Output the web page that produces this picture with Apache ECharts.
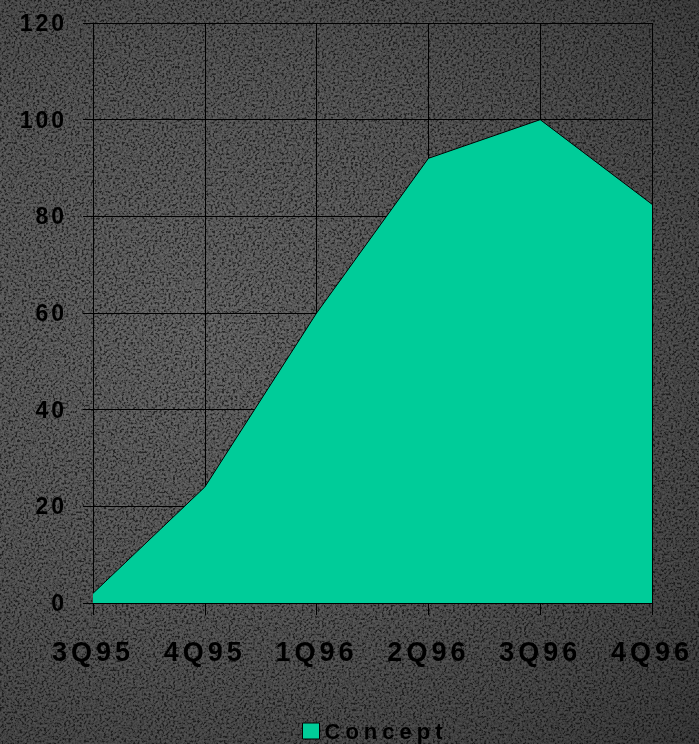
<!DOCTYPE html>
<html>
<head>
<meta charset="utf-8">
<script src="https://cdn.jsdelivr.net/npm/echarts@6/dist/echarts.min.js"></script>
<style>
html,body{margin:0;padding:0;}
#wrap{position:relative;width:699px;height:744px;overflow:hidden;
 background:radial-gradient(ellipse at 30% 45%, #4a4a4a 0%, #404040 45%, #333 80%, #2a2a2a 100%);}
#noise{position:absolute;left:0;top:0;width:699px;height:744px;opacity:0.45;
 background-image:url("data:image/svg+xml;utf8,<svg xmlns='http://www.w3.org/2000/svg' width='699' height='744'><filter id='n'><feTurbulence type='fractalNoise' baseFrequency='0.45' numOctaves='2' stitchTiles='stitch'/><feColorMatrix type='matrix' values='3 0 0 0 -1  3 0 0 0 -1  3 0 0 0 -1  0 0 0 0 1'/></filter><rect width='100%' height='100%' filter='url(%23n)'/></svg>");
 mix-blend-mode:overlay;}
#chart{position:absolute;left:0;top:0;width:699px;height:744px;}
</style>
</head>
<body>
<div id="wrap"><div id="noise"></div><div id="chart"></div></div>
<script>
const categories = ['3Q95', '4Q95', '1Q96', '2Q96', '3Q96', '4Q96'];
const conceptValues = [2, 24, 60, 92, 100, 82.5];
const yTicks = { min: 0, max: 120, interval: 20 };
const seriesName = 'Concept';

const FONT = 'Liberation Sans, Arial, sans-serif';
const chart = echarts.init(document.getElementById('chart'), null, { renderer: 'svg' });
chart.setOption({
  backgroundColor: 'transparent',
  animation: false,
  grid: { left: 93, right: 47, top: 23, bottom: 141 },
  legend: {
    data: [seriesName],
    left: 297, top: 715,
    icon: 'rect', itemWidth: 17, itemHeight: 16, itemGap: 9,
    itemStyle: { borderColor: '#000', borderWidth: 1 },
    textStyle: { color: '#000', fontSize: 22, fontWeight: 'bold', fontFamily: FONT, lineHeight: 22 }
  },
  xAxis: {
    type: 'category',
    data: categories,
    boundaryGap: false,
    axisLine: { show: true, lineStyle: { color: '#000', width: 1 } },
    axisTick: { show: true, length: 12, lineStyle: { color: '#000' } },
    axisLabel: { color: '#000', fontSize: 27, fontWeight: 'bold', margin: 35, fontFamily: FONT },
    splitLine: { show: true, lineStyle: { color: '#000', width: 1 } }
  },
  yAxis: {
    type: 'value',
    min: yTicks.min, max: yTicks.max, interval: yTicks.interval,
    axisLine: { show: true, lineStyle: { color: '#000', width: 1 } },
    axisTick: { show: true, length: 10, lineStyle: { color: '#000' } },
    axisLabel: { color: '#000', fontSize: 23, fontWeight: 'bold', margin: 26, fontFamily: FONT },
    splitLine: { show: true, lineStyle: { color: '#000', width: 1 } }
  },
  series: [{
    name: seriesName,
    type: 'line',
    data: conceptValues,
    symbol: 'none',
    lineStyle: { color: '#000', width: 1 },
    itemStyle: { color: '#00CC99' },
    areaStyle: { color: '#00CC99', opacity: 1 }
  }]
});

// widen letter spacing like the original bitmap-style typography
function spaceText() {
  const texts = document.querySelectorAll('#chart svg text');
  texts.forEach(t => {
    const s = t.textContent;
    if (categories.includes(s)) t.style.letterSpacing = '4px';
    else if (s === seriesName) t.style.letterSpacing = '5px';
    else t.style.letterSpacing = '3px';
  });
}
spaceText();
chart.on('finished', spaceText);
</script>
</body>
</html>
